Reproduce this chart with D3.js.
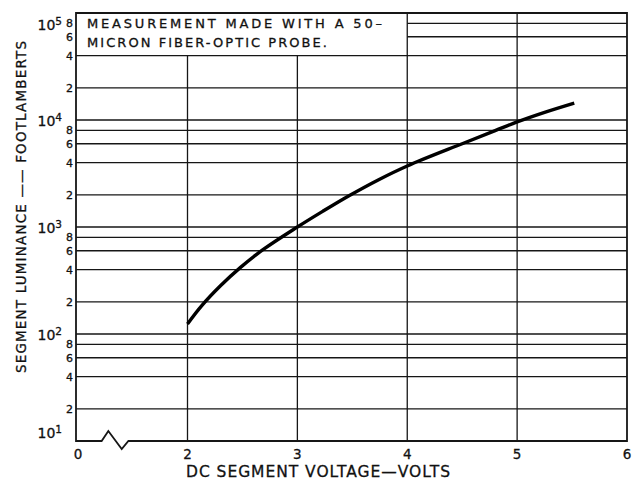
<!DOCTYPE html>
<html>
<head>
<meta charset="utf-8">
<script src="https://cdn.jsdelivr.net/npm/d3@7"></script>
<style>
  body { margin: 0; background: #fff; }
  text { font-family: "DejaVu Sans", sans-serif; fill: #111; stroke: #111; stroke-width: 0.3px; }
</style>
</head>
<body>
<script>
// measured curve: DC segment voltage (V) vs luminance (fL)
var voltage = [2.0, 2.13, 2.3, 2.48, 2.69, 3.0, 3.23, 3.47, 3.74, 4.0, 4.5, 4.8, 5.0, 5.25, 5.52];
var luminance = [124, 184, 282, 417, 617, 1000, 1400, 1960, 2770, 3720, 6000, 7950, 9600, 11800, 14400];

// axis ticks
var xTicks = [0, 2, 3, 4, 5, 6];
var xGrid = [2, 3, 4, 5];
var decades = [1, 2, 3, 4, 5];
var minorSteps = [2, 4, 6, 8];

var noteLines = ["MEASUREMENT  MADE  WITH  A  50\u2013", "MICRON  FIBER-OPTIC  PROBE."];

var svgWidth = 641;
var svgHeight = 480;
var ink = "#161616";

var svg = d3.select("body")
  .append("svg")
  .attr("width", svgWidth)
  .attr("height", svgHeight);

// broken x axis: 0..2 squeezed into the width of one volt
var xScale = d3.scaleLinear()
  .domain([0, 2, 6])
  .range([76, 187.5, 627]);

var yScale = d3.scaleLog()
  .domain([10, 1e5])
  .range([441, 13]);

// all horizontal grid values
var gridValues = [];
decades.forEach(function(p) {
  var base = Math.pow(10, p);
  gridValues.push(base);
  if (p < 5) {
    minorSteps.forEach(function(m) { gridValues.push(m * base); });
  }
});

// note box sits over the upper-left corner of the grid
var boxX = 4, boxY = 4e4;

var grid = svg.append("g")
  .attr("stroke", ink)
  .attr("stroke-width", 1.3);

grid.selectAll(".hgrid")
  .data(gridValues.filter(function(v) { return v > 10 && v < 1e5; }))
  .enter()
  .append("line")
  .attr("x1", function(v) { return v > boxY ? xScale(boxX) : xScale(0); })
  .attr("x2", xScale(6))
  .attr("y1", function(v) { return yScale(v); })
  .attr("y2", function(v) { return yScale(v); });

grid.selectAll(".vgrid")
  .data(xGrid)
  .enter()
  .append("line")
  .attr("x1", function(d) { return xScale(d); })
  .attr("x2", function(d) { return xScale(d); })
  .attr("y1", function(d) { return d < boxX ? yScale(boxY) : yScale(1e5); })
  .attr("y2", yScale(10));

// frame: top, right, left, and bottom with the axis break
var bottom = yScale(10);
var frame = d3.path();
frame.moveTo(xScale(0), yScale(1e5));
frame.lineTo(xScale(6), yScale(1e5));
frame.lineTo(xScale(6), bottom);
frame.lineTo(xScale(0.94), bottom);
frame.lineTo(xScale(0.82), bottom + 8);
frame.lineTo(xScale(0.58), bottom - 10);
frame.lineTo(xScale(0.46), bottom);
frame.lineTo(xScale(0), bottom);
frame.closePath();

svg.append("path")
  .attr("d", frame.toString())
  .attr("fill", "none")
  .attr("stroke", ink)
  .attr("stroke-width", 1.8)
  .attr("stroke-linejoin", "miter");

// note text
svg.selectAll(".note")
  .data(noteLines)
  .enter()
  .append("text")
  .attr("x", xScale(0) + 11)
  .attr("y", function(d, i) { return 28 + i * 19; })
  .attr("font-size", 13)
  .attr("textLength", function(d, i) { return i === 0 ? 295 : 240; })
  .attr("lengthAdjust", "spacing")
  .text(function(d) { return d; });

// the curve
var pts = voltage.map(function(v, i) { return [v, luminance[i]]; });
var line = d3.line()
  .x(function(d) { return xScale(d[0]); })
  .y(function(d) { return yScale(d[1]); })
  .curve(d3.curveCatmullRom);

svg.append("path")
  .datum(pts)
  .attr("d", line)
  .attr("fill", "none")
  .attr("stroke", "#000")
  .attr("stroke-width", 3.4)
  .attr("stroke-linecap", "butt");

// x tick labels
svg.selectAll(".xlab")
  .data(xTicks)
  .enter()
  .append("text")
  .attr("x", function(d) { return d === 0 ? xScale(d) + 2 : xScale(d); })
  .attr("y", 459)
  .attr("text-anchor", "middle")
  .attr("font-size", 13.5)
  .text(function(d) { return d; });

// y minor labels
function mantissa(v) {
  return Math.round(v / Math.pow(10, Math.floor(Math.log10(v) + 1e-9)));
}
var minorVals = gridValues.filter(function(v) { return mantissa(v) !== 1; });
svg.selectAll(".ymin")
  .data(minorVals)
  .enter()
  .append("text")
  .attr("x", 73)
  .attr("y", function(v) { return yScale(v); })
  .attr("dy", "0.36em")
  .attr("text-anchor", "end")
  .attr("font-size", 11)
  .text(function(v) { return mantissa(v); });

// y decade labels
var dec = svg.selectAll(".ydec")
  .data(decades)
  .enter()
  .append("text")
  .attr("x", 62)
  .attr("y", function(p) {
    var y = yScale(Math.pow(10, p));
    if (p === 5) y += 11;
    if (p === 1) y -= 9;
    return y;
  })
  .attr("dy", "0.4em")
  .attr("text-anchor", "end")
  .attr("font-size", 14);
dec.append("tspan").text("10");
dec.append("tspan")
  .attr("dy", "-0.45em")
  .attr("font-size", 10.5)
  .text(function(p) { return p; });

// axis titles
svg.append("text")
  .attr("x", 318)
  .attr("y", 477)
  .attr("text-anchor", "middle")
  .attr("font-size", 15.5)
  .attr("textLength", 264)
  .attr("lengthAdjust", "spacing")
  .text("DC  SEGMENT  VOLTAGE\u2014VOLTS");

svg.append("text")
  .attr("transform", "translate(25.5, 207) rotate(-90)")
  .attr("text-anchor", "middle")
  .attr("font-size", 13.5)
  .attr("textLength", 332)
  .attr("lengthAdjust", "spacing")
  .text("SEGMENT  LUMINANCE \u2014\u2014 FOOTLAMBERTS");
</script>
</body>
</html>
